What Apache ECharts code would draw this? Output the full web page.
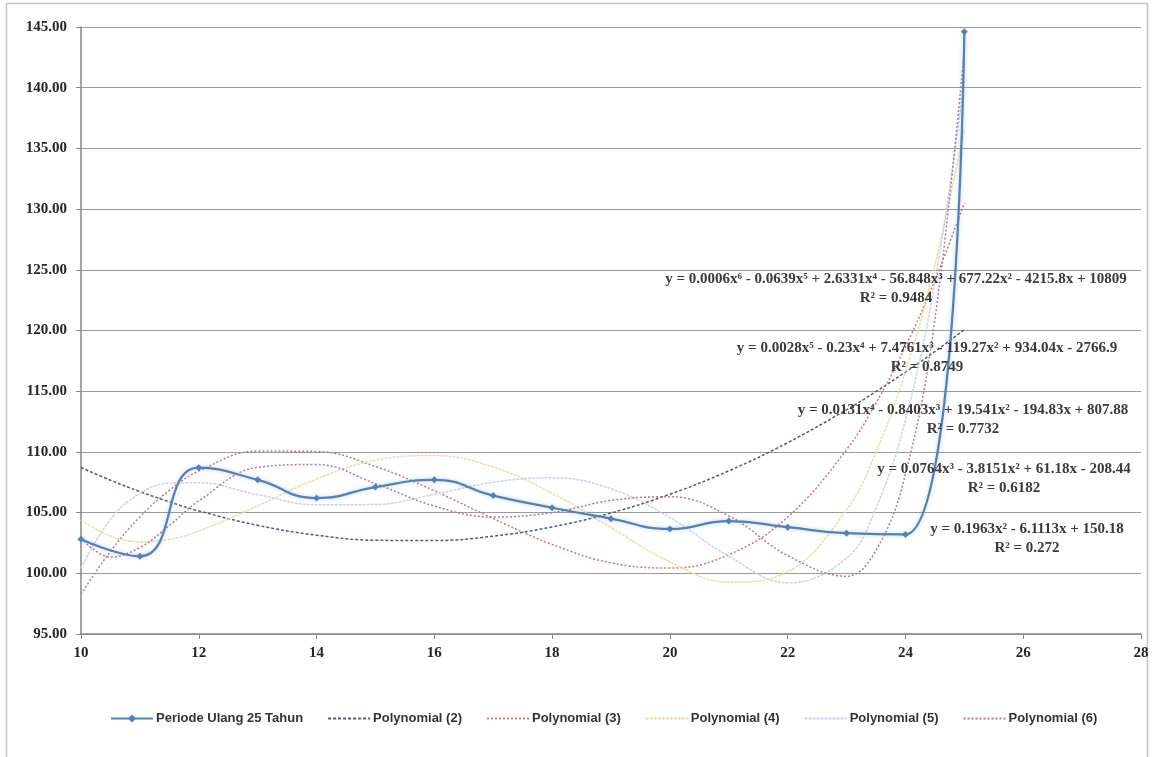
<!DOCTYPE html>
<html>
<head>
<meta charset="utf-8">
<title>Periode Ulang 25 Tahun</title>
<script src="https://cdn.jsdelivr.net/npm/echarts@6.0.0/dist/echarts.min.js"></script>
<style>
  html, body { margin: 0; padding: 0; background: #fff; }
  #chart { width: 1156px; height: 757px; }
</style>
</head>
<body>
<div id="chart"></div>
<script>
// x values of the observed points
const xValues = [10, 11, 12, 13, 14, 15, 16, 17, 18, 19, 20, 21, 22, 23, 24, 25];
// Periode Ulang 25 Tahun
const periode25 = [102.8, 101.4, 108.7, 107.7, 106.2, 107.1, 107.7, 106.4, 105.4, 104.5, 103.65, 104.3, 103.8, 103.3, 103.2, 144.6];

// trend curves, read at these x values
const trendX = [10, 10.5, 11, 11.5, 12, 13, 14, 15, 16, 17, 18, 19, 20, 21, 22, 23, 23.5, 24, 24.5, 25];
const poly2 = [108.71, 107.67, 106.73, 105.89, 105.14, 103.95, 103.14, 102.72, 102.70, 103.06, 103.82, 104.97, 106.51, 108.44, 110.76, 113.47, 114.97, 116.57, 118.27, 120.07];
const poly3 = [98.27, 101.81, 104.64, 106.83, 108.42, 110.07, 110.04, 108.80, 106.80, 104.51, 102.38, 100.86, 100.43, 101.53, 104.63, 110.19, 114.03, 118.66, 124.13, 130.51];
const poly4 = [104.40, 103.07, 102.60, 102.80, 103.47, 105.56, 107.78, 109.32, 109.70, 108.75, 106.61, 103.76, 100.94, 99.27, 100.13, 105.23, 110.00, 116.62, 125.39, 136.63];
const poly5 = [100.42, 104.45, 106.58, 107.42, 107.45, 106.48, 105.64, 105.67, 106.50, 107.50, 107.87, 106.96, 104.59, 101.41, 99.21, 101.25, 105.38, 112.64, 124.01, 140.61];
const poly6 = [102.90, 101.35, 102.12, 103.94, 105.96, 108.73, 108.96, 107.39, 105.54, 104.63, 105.00, 106.00, 106.31, 104.73, 101.46, 99.76, 101.90, 108.17, 120.90, 143.09];

// equation labels of the trend lines
const equations = [
  'y = 0.0006x⁶ - 0.0639x⁵ + 2.6331x⁴ - 56.848x³ + 677.22x² - 4215.8x + 10809',
  'y = 0.0028x⁵ - 0.23x⁴ + 7.4761x³ - 119.27x² + 934.04x - 2766.9',
  'y = 0.0131x⁴ - 0.8403x³ + 19.541x² - 194.83x + 807.88',
  'y = 0.0764x³ - 3.8151x² + 61.18x - 208.44',
  'y = 0.1963x² - 6.1113x + 150.18'
];
const rSquared = ['R² = 0.9484', 'R² = 0.8749', 'R² = 0.7732', 'R² = 0.6182', 'R² = 0.272'];

const serifFont = '"Liberation Serif", "DejaVu Serif", serif';
const legendFont = '"Liberation Sans Narrow", "Liberation Sans", sans-serif';

function pairs(xs, ys) {
  return xs.map((x, i) => [x, ys[i]]);
}

function trend(name, values, color, dash, width) {
  return {
    name: name,
    type: 'line',
    data: pairs(trendX, values),
    smooth: 0.4,
    symbol: 'none',
    z: 2,
    lineStyle: { color: color, width: width, type: dash },
    itemStyle: { color: color },
    emphasis: { disabled: true }
  };
}

// label block centres (equation line, R² line below)
const labelPos = [
  { cx: 896, y: 279 },
  { cx: 927, y: 348 },
  { cx: 963, y: 410 },
  { cx: 1004, y: 469 },
  { cx: 1027, y: 529 }
];

const graphics = [{
  type: 'rect',
  silent: true,
  shape: { x: 6.5, y: 3.5, width: 1141, height: 770 },
  style: { fill: 'none', stroke: '#c4c4c4', lineWidth: 1.5 }
}];
labelPos.forEach((p, i) => {
  graphics.push({
    type: 'text', silent: true, z: 100,
    style: { text: equations[i], x: p.cx, y: p.y, align: 'center', verticalAlign: 'middle',
      font: 'bold 15px ' + serifFont, fill: '#3a3a3a' }
  });
  graphics.push({
    type: 'text', silent: true, z: 100,
    style: { text: rSquared[i], x: p.cx, y: p.y + 19, align: 'center', verticalAlign: 'middle',
      font: 'bold 15px ' + serifFont, fill: '#3a3a3a' }
  });
});

const trendNames = ['Polynomial (2)', 'Polynomial (3)', 'Polynomial (4)', 'Polynomial (5)', 'Polynomial (6)'];

const chart = echarts.init(document.getElementById('chart'));
const option = {
  animation: false,
  backgroundColor: '#fff',
  grid: { left: 81, right: 15, top: 27, bottom: 123, containLabel: false },
  legend: {
    left: 105,
    top: 707,
    itemWidth: 42,
    itemHeight: 10,
    itemGap: 24,
    textStyle: { fontFamily: legendFont, fontSize: 13, fontWeight: 'bold', color: '#333', padding: [0, 0, 0, -2] },
    data: [{ name: 'Periode Ulang 25 Tahun' }].concat(trendNames.map((n) => ({ name: n, itemStyle: { opacity: 0 } })))
  },
  xAxis: {
    type: 'value',
    min: 10,
    max: 28,
    interval: 2,
    axisLine: { show: true, lineStyle: { color: '#868686', width: 1.5 } },
    axisTick: { show: true, length: 5, lineStyle: { color: '#868686' } },
    splitLine: { show: false },
    axisLabel: { margin: 12, fontFamily: serifFont, fontSize: 15, fontWeight: 'bold', color: '#262626' }
  },
  yAxis: {
    type: 'value',
    min: 95,
    max: 145,
    interval: 5,
    axisLine: { show: true, lineStyle: { color: '#868686', width: 1.5 } },
    axisTick: { show: true, length: 5, lineStyle: { color: '#868686' } },
    splitLine: { show: true, lineStyle: { color: '#9a9a9a', width: 1.2 } },
    axisLabel: {
      margin: 14, fontFamily: serifFont, fontSize: 15, fontWeight: 'bold', color: '#262626',
      formatter: (v) => v.toFixed(2)
    }
  },
  graphic: graphics,
  series: [
    {
      name: 'Periode Ulang 25 Tahun',
      type: 'line',
      data: pairs(xValues, periode25),
      smooth: 0.5,
      symbol: 'diamond',
      symbolSize: 7,
      z: 5,
      lineStyle: { color: '#4f81bd', width: 2.25, shadowColor: 'rgba(79,129,189,0.35)', shadowBlur: 4 },
      itemStyle: { color: '#4f81bd' },
      emphasis: { disabled: true }
    },
    trend(trendNames[0], poly2, '#4e5c78', [3, 2], 1.5),
    trend(trendNames[1], poly3, '#cf7474', [2, 2], 1.5),
    trend(trendNames[2], poly4, '#f0dc9a', [3, 1], 1.5),
    trend(trendNames[3], poly5, '#c9d3ea', [3, 1], 1.5),
    trend(trendNames[4], poly6, '#b874a0', [2, 2], 1.5)
  ]
};
chart.setOption(option);
</script>
</body>
</html>
